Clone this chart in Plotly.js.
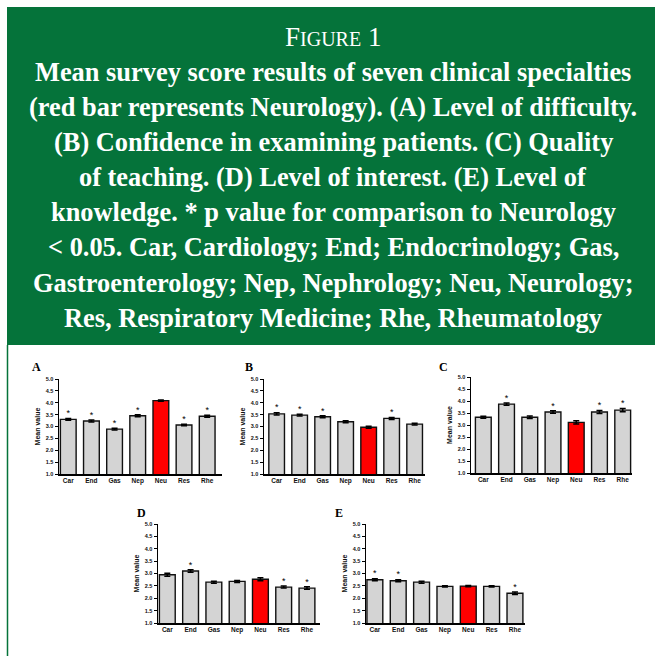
<!DOCTYPE html>
<html>
<head>
<meta charset="utf-8">
<script src="https://cdn.plot.ly/plotly-3.0.1.min.js"></script>
<style>html,body{margin:0;padding:0;background:#fff;}#chart{width:655px;height:656px;}</style>
</head>
<body>
<div id="chart"></div>
<script>
// ---- data ----
var categories = ['Car', 'End', 'Gas', 'Nep', 'Neu', 'Res', 'Rhe'];
var tickValsY = [1.0, 1.5, 2.0, 2.5, 3.0, 3.5, 4.0, 4.5, 5.0];

var difficultyMeans = [3.30, 3.23, 2.89, 3.45, 4.09, 3.06, 3.43];
var difficultyErrors = [0.04, 0.04, 0.04, 0.04, 0.03, 0.03, 0.04];
var difficultySignif = [1, 1, 1, 1, 0, 1, 1];

var confidenceMeans = [3.53, 3.48, 3.41, 3.20, 2.97, 3.34, 3.10];
var confidenceErrors = [0.05, 0.04, 0.04, 0.04, 0.04, 0.04, 0.04];
var confidenceSignif = [1, 1, 1, 0, 0, 1, 0];

var teachingMeans = [3.32, 3.87, 3.32, 3.54, 3.11, 3.54, 3.62];
var teachingErrors = [0.04, 0.05, 0.05, 0.05, 0.07, 0.06, 0.07];
var teachingSignif = [0, 1, 0, 1, 0, 1, 1];

var interestMeans = [2.95, 3.10, 2.65, 2.68, 2.77, 2.45, 2.41];
var interestErrors = [0.06, 0.05, 0.04, 0.04, 0.06, 0.04, 0.05];
var interestSignif = [0, 1, 0, 0, 0, 1, 1];

var knowledgeMeans = [2.75, 2.71, 2.65, 2.48, 2.49, 2.48, 2.20];
var knowledgeErrors = [0.04, 0.04, 0.04, 0.03, 0.03, 0.03, 0.05];
var knowledgeSignif = [1, 1, 0, 0, 0, 0, 1];

var panelLetters = ['A', 'B', 'C', 'D', 'E'];
var headerLines = [
  'Mean survey score results of seven clinical specialties',
  '(red bar represents Neurology). (A) Level of difficulty.',
  '(B) Confidence in examining patients. (C) Quality',
  'of teaching. (D) Level of interest. (E) Level of',
  'knowledge. * p value for comparison to Neurology',
  '< 0.05. Car, Cardiology; End; Endocrinology; Gas,',
  'Gastroenterology; Nep, Nephrology; Neu, Neurology;',
  'Res, Respiratory Medicine; Rhe, Rheumatology'
];

// ---- layout helpers (pixel geometry) ----
var W = 655, H = 656;
function fx(px) { return px / W; }
function fy(py) { return 1 - py / H; }

var panels = [
  {means: difficultyMeans, errs: difficultyErrors, sig: difficultySignif,
   x0: 59, x1: 222, yTop: 379, yBot: 474, range: [-0.4, 6.64], letter: [36, 367]},
  {means: confidenceMeans, errs: confidenceErrors, sig: confidenceSignif,
   x0: 264, x1: 425, yTop: 379, yBot: 474, range: [-0.55, 6.45], letter: [249, 367]},
  {means: teachingMeans, errs: teachingErrors, sig: teachingSignif,
   x0: 471, x1: 632, yTop: 377, yBot: 473, range: [-0.53, 6.4], letter: [444, 367]},
  {means: interestMeans, errs: interestErrors, sig: interestSignif,
   x0: 158, x1: 320, yTop: 524, yBot: 623, range: [-0.4, 6.56], letter: [141, 513]},
  {means: knowledgeMeans, errs: knowledgeErrors, sig: knowledgeSignif,
   x0: 366, x1: 525, yTop: 524, yBot: 623, range: [-0.38, 6.43], letter: [339, 513]}
];

var data = [];
var layout = {
  width: W, height: H,
  margin: {l: 0, r: 0, t: 0, b: 0},
  paper_bgcolor: '#ffffff',
  plot_bgcolor: 'rgba(0,0,0,0)',
  showlegend: false,
  shapes: [
    {type: 'rect', xref: 'paper', yref: 'paper', x0: fx(7), x1: fx(656), y0: fy(7), y1: fy(345),
     fillcolor: '#05733A', line: {width: 0}, layer: 'below'},
    {type: 'line', xref: 'paper', yref: 'paper', x0: fx(7.5), x1: fx(7.5), y0: fy(345), y1: fy(657),
     line: {color: '#05733A', width: 1.5}}
  ],
  annotations: []
};

// header
layout.annotations.push({
  xref: 'paper', yref: 'paper', x: fx(333), y: fy(37), xanchor: 'center', yanchor: 'middle',
  showarrow: false,
  text: 'F<span style="font-size:20px">IGURE</span> 1',
  font: {family: 'Liberation Serif', size: 27, color: '#ffffff'}
});
headerLines.forEach(function (line, i) {
  layout.annotations.push({
    xref: 'paper', yref: 'paper', x: fx(333), y: fy(72 + i * 35.1), xanchor: 'center', yanchor: 'middle',
    showarrow: false,
    text: '<b>' + line.replace(/</g, '&lt;') + '</b>',
    font: {family: 'Liberation Serif', size: 26.4, color: '#ffffff'}
  });
});

panels.forEach(function (p, i) {
  var n = i + 1;
  var xa = n === 1 ? 'x' : 'x' + n;
  var ya = n === 1 ? 'y' : 'y' + n;
  var colors = categories.map(function (c) { return c === 'Neu' ? '#ff0000' : '#d4d4d4'; });
  data.push({
    type: 'bar', x: categories, y: p.means, xaxis: xa, yaxis: ya,
    base: 0,
    width: 0.68,
    marker: {color: colors, line: {color: '#111111', width: 1.4}},
    error_y: {type: 'data', array: p.errs, visible: true, color: '#000000', thickness: 1.5, width: 3},
    hoverinfo: 'skip'
  });
  data.push({
    type: 'scatter', mode: 'text', x: categories,
    y: p.means.map(function (v, k) { return v + p.errs[k]; }),
    text: p.sig.map(function (s) { return s ? '*' : ''; }),
    textposition: 'top center',
    textfont: {family: 'Liberation Sans', size: 9, color: '#000000'},
    xaxis: xa, yaxis: ya, hoverinfo: 'skip', cliponaxis: false
  });
  var xKey = n === 1 ? 'xaxis' : 'xaxis' + n;
  var yKey = n === 1 ? 'yaxis' : 'yaxis' + n;
  layout[xKey] = {
    domain: [fx(p.x0), fx(p.x1)], anchor: ya, type: 'category', range: p.range,
    showline: true, linecolor: '#000000', linewidth: 1.5, ticks: '', showgrid: false, zeroline: false,
    tickfont: {family: 'Liberation Sans', size: 6.5, color: '#111111', weight: 'bold'},
    ticklen: 0, fixedrange: true
  };
  layout[yKey] = {
    domain: [fy(p.yBot), fy(p.yTop)], anchor: xa, range: [1, 5],
    tickvals: tickValsY, tickformat: '.1f',
    showline: true, linecolor: '#000000', linewidth: 1.5, ticks: 'outside', ticklen: 3, tickwidth: 1,
    tickcolor: '#000000', showgrid: false, zeroline: false,
    tickfont: {family: 'Liberation Sans', size: 5.5, color: '#111111', weight: 'bold'},
    title: {text: 'Mean value', standoff: 4,
            font: {family: 'Liberation Sans', size: 7, color: '#111111', weight: 'bold'}},
    automargin: false, fixedrange: true
  };
  layout.annotations.push({
    xref: 'paper', yref: 'paper', x: fx(p.letter[0]), y: fy(p.letter[1]), xanchor: 'center', yanchor: 'middle',
    showarrow: false, text: '<b>' + panelLetters[i] + '</b>',
    font: {family: 'Liberation Serif', size: 12, color: '#000000'}
  });
});

Plotly.newPlot('chart', data, layout, {staticPlot: true, displayModeBar: false});
</script>
</body>
</html>
